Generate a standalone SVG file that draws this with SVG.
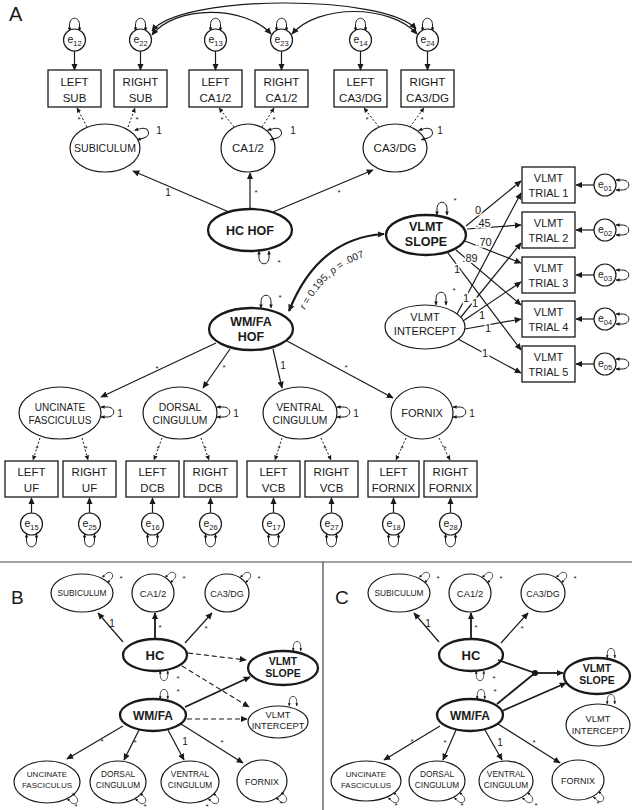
<svg xmlns="http://www.w3.org/2000/svg" width="632" height="810" viewBox="0 0 632 810">
<style>
text{font-family:"Liberation Sans",Arial,Helvetica,sans-serif;fill:#1a1a1a;text-anchor:middle}
.bx{fill:#fff;stroke:#1a1a1a;stroke-width:1.3}
.el{fill:#fff;stroke:#1a1a1a;stroke-width:1.2}
.eb{fill:#fff;stroke:#1a1a1a;stroke-width:2.3}
.ln{fill:none;stroke:#1a1a1a;stroke-width:1.2;marker-end:url(#ah)}
.lnb{fill:none;stroke:#1a1a1a;stroke-width:1.8;marker-end:url(#ah)}
.dt{fill:none;stroke:#1a1a1a;stroke-width:1;stroke-dasharray:2 2;marker-end:url(#as)}
.ds{fill:none;stroke:#1a1a1a;stroke-width:1.1;stroke-dasharray:5 3;marker-end:url(#ah)}
.dbl{fill:none;stroke:#1a1a1a;stroke-width:1.2;marker-start:url(#ah);marker-end:url(#ah)}
.cor{fill:none;stroke:#1a1a1a;stroke-width:2.2;marker-start:url(#ah);marker-end:url(#ah)}
.sep{stroke:#444;stroke-width:1.2}
.e{font-size:10.5px}
.sub{font-size:7.5px}
.bt{font-size:11.5px}
.tt{font-size:11px}
.bo{font-weight:bold}
.ast{font-size:8px}
.lab{font-size:11px;stroke:#fff;stroke-width:3px;paint-order:stroke}
.lab9{font-size:10px}
.big{font-size:20px;text-anchor:start}
</style>
<defs>
<marker id="ah" viewBox="0 0 10 10" refX="9" refY="5" markerWidth="7" markerHeight="7" markerUnits="userSpaceOnUse" orient="auto-start-reverse"><path d="M0,0.5 L10,5 L0,9.5z" fill="#1a1a1a"/></marker>
<marker id="as" viewBox="0 0 10 10" refX="9" refY="5" markerWidth="5" markerHeight="5" markerUnits="userSpaceOnUse" orient="auto-start-reverse"><path d="M0,0.5 L10,5 L0,9.5z" fill="#1a1a1a"/></marker>
<marker id="al" viewBox="0 0 10 10" refX="9" refY="5" markerWidth="4" markerHeight="4" markerUnits="userSpaceOnUse" orient="auto-start-reverse"><path d="M0,0.5 L10,5 L0,9.5z" fill="#1a1a1a"/></marker>
<path id="lp" d="M-5,0 L-5,-6 C-5,-15 5,-15 5,-6 L5,0" fill="none" stroke="#1a1a1a" stroke-width="1" marker-start="url(#al)" marker-end="url(#al)"/>
</defs>

<!-- panel labels and separators -->
<text x="9" y="21" class="big">A</text>
<text x="11" y="604" class="big" style="font-size:19px">B</text>
<text x="335" y="604" class="big" style="font-size:19px">C</text>
<line x1="0" y1="562" x2="632" y2="562" class="sep"/>
<line x1="323" y1="562" x2="323" y2="810" class="sep"/>

<!-- ================= PANEL A ================= -->
<g id="A-e12"><circle cx="74.5" cy="40" r="11" class="el"/><text x="74.5" y="43" class="e">e<tspan class="sub" dy="2.5">12</tspan></text><use href="#lp" transform="translate(74.5,31)"/></g>
<g id="A-e22"><circle cx="140.5" cy="40" r="11" class="el"/><text x="140.5" y="43" class="e">e<tspan class="sub" dy="2.5">22</tspan></text><use href="#lp" transform="translate(140.5,31)"/></g>
<g id="A-e13"><circle cx="215.5" cy="40" r="11" class="el"/><text x="215.5" y="43" class="e">e<tspan class="sub" dy="2.5">13</tspan></text><use href="#lp" transform="translate(215.5,31)"/></g>
<g id="A-e23"><circle cx="281.5" cy="40" r="11" class="el"/><text x="281.5" y="43" class="e">e<tspan class="sub" dy="2.5">23</tspan></text><use href="#lp" transform="translate(281.5,31)"/></g>
<g id="A-e14"><circle cx="360.5" cy="40" r="11" class="el"/><text x="360.5" y="43" class="e">e<tspan class="sub" dy="2.5">14</tspan></text><use href="#lp" transform="translate(360.5,31)"/></g>
<g id="A-e24"><circle cx="427.5" cy="40" r="11" class="el"/><text x="427.5" y="43" class="e">e<tspan class="sub" dy="2.5">24</tspan></text><use href="#lp" transform="translate(427.5,31)"/></g>

<g id="A-leftsub"><rect x="48" y="70" width="53" height="37" class="bx"/><text x="74.5" y="86" class="bt">LEFT</text><text x="74.5" y="102" class="bt">SUB</text></g>
<g id="A-rightsub"><rect x="114" y="70" width="53" height="37" class="bx"/><text x="140.5" y="86" class="bt">RIGHT</text><text x="140.5" y="102" class="bt">SUB</text></g>
<g id="A-leftca12"><rect x="189" y="70" width="53" height="37" class="bx"/><text x="215.5" y="86" class="bt">LEFT</text><text x="215.5" y="102" class="bt">CA1/2</text></g>
<g id="A-rightca12"><rect x="255" y="70" width="53" height="37" class="bx"/><text x="281.5" y="86" class="bt">RIGHT</text><text x="281.5" y="102" class="bt">CA1/2</text></g>
<g id="A-leftca3dg"><rect x="334" y="70" width="53" height="37" class="bx"/><text x="360.5" y="86" class="bt">LEFT</text><text x="360.5" y="102" class="bt">CA3/DG</text></g>
<g id="A-rightca3dg"><rect x="401" y="70" width="53" height="37" class="bx"/><text x="427.5" y="86" class="bt">RIGHT</text><text x="427.5" y="102" class="bt">CA3/DG</text></g>

<g id="A-subiculum"><ellipse cx="105" cy="148" rx="35" ry="24" class="el"/><text x="105" y="152" style="font-size:10.5px">SUBICULUM</text><use href="#lp" transform="translate(136,135) rotate(75)"/><text x="159" y="134" class="lab9">1</text></g>
<g id="A-ca12"><ellipse cx="248" cy="148" rx="27" ry="24" class="el"/><text x="248" y="152" style="font-size:11.5px">CA1/2</text><use href="#lp" transform="translate(269,135) rotate(75)"/><text x="293" y="134" class="lab9">1</text></g>
<g id="A-ca3dg"><ellipse cx="395" cy="148" rx="32" ry="24" class="el"/><text x="395" y="152" style="font-size:11.5px">CA3/DG</text><use href="#lp" transform="translate(420,135) rotate(75)"/><text x="440" y="134" class="lab9">1</text></g>

<g id="A-hchof"><ellipse cx="250" cy="230" rx="42" ry="21" class="eb"/><text x="250" y="235" class="bo" style="font-size:12.5px">HC HOF</text><use href="#lp" transform="translate(264,251) rotate(180)"/><text x="279" y="265" class="ast">*</text></g>

<g id="A-wmfahof"><ellipse cx="251" cy="329" rx="42" ry="21" class="eb"/><text x="251" y="326" class="bo" style="font-size:12.5px">WM/FA</text><text x="251" y="341" class="bo" style="font-size:12.5px">HOF</text><use href="#lp" transform="translate(266,308)"/><text x="280" y="300" class="ast">*</text></g>

<g id="A-vlmtslope"><ellipse cx="426" cy="235" rx="40" ry="20" class="eb"/><text x="426" y="231" class="bo" style="font-size:12.5px">VLMT</text><text x="426" y="246" class="bo" style="font-size:12.5px">SLOPE</text><use href="#lp" transform="translate(442,215)"/><text x="455" y="203" class="ast">*</text></g>

<g id="A-vlmtintercept"><ellipse cx="425" cy="327" rx="40" ry="22" class="el"/><text x="425" y="321" style="font-size:11px">VLMT</text><text x="425" y="335" style="font-size:11px">INTERCEPT</text><use href="#lp" transform="translate(441,305)"/><text x="454" y="293" class="ast">*</text></g>

<g id="A-trial1"><rect x="522" y="167" width="53" height="36" class="bx"/><text x="548.5" y="182" class="tt">VLMT</text><text x="548.5" y="197" class="tt">TRIAL 1</text></g>
<g id="A-trial2"><rect x="522" y="212" width="53" height="36" class="bx"/><text x="548.5" y="227" class="tt">VLMT</text><text x="548.5" y="242" class="tt">TRIAL 2</text></g>
<g id="A-trial3"><rect x="522" y="257" width="53" height="36" class="bx"/><text x="548.5" y="272" class="tt">VLMT</text><text x="548.5" y="287" class="tt">TRIAL 3</text></g>
<g id="A-trial4"><rect x="522" y="301" width="53" height="36" class="bx"/><text x="548.5" y="316" class="tt">VLMT</text><text x="548.5" y="331" class="tt">TRIAL 4</text></g>
<g id="A-trial5"><rect x="522" y="346" width="53" height="36" class="bx"/><text x="548.5" y="361" class="tt">VLMT</text><text x="548.5" y="376" class="tt">TRIAL 5</text></g>

<g id="A-e01"><circle cx="605" cy="185" r="11" class="el"/><text x="605" y="188" class="e">e<tspan class="sub" dy="2.5">01</tspan></text><use href="#lp" transform="translate(616,185) rotate(90)"/></g>
<g id="A-e02"><circle cx="605" cy="230" r="11" class="el"/><text x="605" y="233" class="e">e<tspan class="sub" dy="2.5">02</tspan></text><use href="#lp" transform="translate(616,230) rotate(90)"/></g>
<g id="A-e03"><circle cx="605" cy="275" r="11" class="el"/><text x="605" y="278" class="e">e<tspan class="sub" dy="2.5">03</tspan></text><use href="#lp" transform="translate(616,275) rotate(90)"/></g>
<g id="A-e04"><circle cx="605" cy="319" r="11" class="el"/><text x="605" y="322" class="e">e<tspan class="sub" dy="2.5">04</tspan></text><use href="#lp" transform="translate(616,319) rotate(90)"/></g>
<g id="A-e05"><circle cx="605" cy="364" r="11" class="el"/><text x="605" y="367" class="e">e<tspan class="sub" dy="2.5">05</tspan></text><use href="#lp" transform="translate(616,364) rotate(90)"/></g>

<g id="A-uncinate"><ellipse cx="60" cy="413" rx="41" ry="26" class="el"/><text x="60" y="411" style="font-size:10px">UNCINATE</text><text x="60" y="424" style="font-size:10px">FASCICULUS</text><use href="#lp" transform="translate(101,412) rotate(90)"/><text x="120" y="417" class="lab9">1</text></g>
<g id="A-dorsal"><ellipse cx="180" cy="413" rx="37" ry="26" class="el"/><text x="180" y="411" style="font-size:10.3px">DORSAL</text><text x="180" y="424" style="font-size:10.3px">CINGULUM</text><use href="#lp" transform="translate(217,412) rotate(90)"/><text x="236" y="417" class="lab9">1</text></g>
<g id="A-ventral"><ellipse cx="300" cy="413" rx="37" ry="26" class="el"/><text x="300" y="411" style="font-size:10.3px">VENTRAL</text><text x="300" y="424" style="font-size:10.3px">CINGULUM</text><use href="#lp" transform="translate(337,412) rotate(90)"/><text x="356" y="417" class="lab9">1</text></g>
<g id="A-fornix"><ellipse cx="422" cy="413" rx="31" ry="26" class="el"/><text x="422" y="417" style="font-size:11px">FORNIX</text><use href="#lp" transform="translate(453,412) rotate(90)"/><text x="472" y="417" class="lab9">1</text></g>

<g id="A-leftuf"><rect x="5" y="461" width="53" height="36" class="bx"/><text x="31.5" y="476" class="bt">LEFT</text><text x="31.5" y="492" class="bt">UF</text></g>
<g id="A-rightuf"><rect x="63" y="461" width="53" height="36" class="bx"/><text x="89.5" y="476" class="bt">RIGHT</text><text x="89.5" y="492" class="bt">UF</text></g>
<g id="A-leftdcb"><rect x="126" y="461" width="53" height="36" class="bx"/><text x="152.5" y="476" class="bt">LEFT</text><text x="152.5" y="492" class="bt">DCB</text></g>
<g id="A-rightdcb"><rect x="184" y="461" width="53" height="36" class="bx"/><text x="210.5" y="476" class="bt">RIGHT</text><text x="210.5" y="492" class="bt">DCB</text></g>
<g id="A-leftvcb"><rect x="247" y="461" width="53" height="36" class="bx"/><text x="273.5" y="476" class="bt">LEFT</text><text x="273.5" y="492" class="bt">VCB</text></g>
<g id="A-rightvcb"><rect x="305" y="461" width="53" height="36" class="bx"/><text x="331.5" y="476" class="bt">RIGHT</text><text x="331.5" y="492" class="bt">VCB</text></g>
<g id="A-leftfornix"><rect x="368" y="461" width="51" height="36" class="bx"/><text x="393.5" y="476" class="bt">LEFT</text><text x="393.5" y="492" class="bt">FORNIX</text></g>
<g id="A-rightfornix"><rect x="424" y="461" width="53" height="36" class="bx"/><text x="450.5" y="476" class="bt">RIGHT</text><text x="450.5" y="492" class="bt">FORNIX</text></g>

<g id="A-e15"><circle cx="31.5" cy="524" r="11" class="el"/><text x="31.5" y="527" class="e">e<tspan class="sub" dy="2.5">15</tspan></text><use href="#lp" transform="translate(31.5,534) rotate(180)"/></g>
<g id="A-e25"><circle cx="89.5" cy="524" r="11" class="el"/><text x="89.5" y="527" class="e">e<tspan class="sub" dy="2.5">25</tspan></text><use href="#lp" transform="translate(89.5,534) rotate(180)"/></g>
<g id="A-e16"><circle cx="152.5" cy="524" r="11" class="el"/><text x="152.5" y="527" class="e">e<tspan class="sub" dy="2.5">16</tspan></text><use href="#lp" transform="translate(152.5,534) rotate(180)"/></g>
<g id="A-e26"><circle cx="210.5" cy="524" r="11" class="el"/><text x="210.5" y="527" class="e">e<tspan class="sub" dy="2.5">26</tspan></text><use href="#lp" transform="translate(210.5,534) rotate(180)"/></g>
<g id="A-e17"><circle cx="273.5" cy="524" r="11" class="el"/><text x="273.5" y="527" class="e">e<tspan class="sub" dy="2.5">17</tspan></text><use href="#lp" transform="translate(273.5,534) rotate(180)"/></g>
<g id="A-e27"><circle cx="331.5" cy="524" r="11" class="el"/><text x="331.5" y="527" class="e">e<tspan class="sub" dy="2.5">27</tspan></text><use href="#lp" transform="translate(331.5,534) rotate(180)"/></g>
<g id="A-e18"><circle cx="393.5" cy="524" r="11" class="el"/><text x="393.5" y="527" class="e">e<tspan class="sub" dy="2.5">18</tspan></text><use href="#lp" transform="translate(393.5,534) rotate(180)"/></g>
<g id="A-e28"><circle cx="450.5" cy="524" r="11" class="el"/><text x="450.5" y="527" class="e">e<tspan class="sub" dy="2.5">28</tspan></text><use href="#lp" transform="translate(450.5,534) rotate(180)"/></g>

<g id="A-connectors">
<!-- error covariances -->
<path d="M152,31 C180,-6 385,-6 416,29" class="dbl"/>
<path d="M152,35 C175,5 245,5 271,34" class="dbl"/>
<path d="M292,34 C318,4 390,4 417,34" class="dbl"/>
<!-- error to box -->
<line x1="74.5" y1="51" x2="74.5" y2="70" class="ln"/>
<line x1="140.5" y1="51" x2="140.5" y2="70" class="ln"/>
<line x1="215.5" y1="51" x2="215.5" y2="70" class="ln"/>
<line x1="281.5" y1="51" x2="281.5" y2="70" class="ln"/>
<line x1="360.5" y1="51" x2="360.5" y2="70" class="ln"/>
<line x1="427.5" y1="51" x2="427.5" y2="70" class="ln"/>
<!-- loadings top -->
<line x1="87" y1="127" x2="77" y2="108" class="dt"/><text x="79" y="122" class="ast">*</text>
<line x1="128" y1="127" x2="135" y2="108" class="dt"/><text x="137" y="122" class="ast">*</text>
<line x1="234" y1="127" x2="219" y2="108" class="dt"/><text x="222" y="122" class="ast">*</text>
<line x1="262" y1="127" x2="274" y2="108" class="dt"/><text x="274" y="122" class="ast">*</text>
<line x1="379" y1="127" x2="364" y2="108" class="dt"/><text x="367" y="122" class="ast">*</text>
<line x1="410" y1="127" x2="424" y2="108" class="dt"/><text x="422" y="122" class="ast">*</text>
<!-- HC HOF -->
<line x1="229" y1="212" x2="133" y2="171" class="ln"/><text x="168" y="196" class="lab9">1</text>
<line x1="250" y1="209" x2="250" y2="173" class="ln"/><text x="256" y="195" class="ast">*</text>
<line x1="273" y1="212" x2="373" y2="170" class="ln"/><text x="339" y="195" class="ast">*</text>
<!-- correlation -->
<path d="M289,311 Q318,238 384,234" class="cor"/>
<path id="corlab" d="M305,310 Q331,259 389,251" fill="none" stroke="none"/>
<text style="font-size:10px;text-anchor:start"><textPath href="#corlab" startOffset="0"><tspan font-style="italic">r</tspan> = 0.195, <tspan font-style="italic">p</tspan> = .007</textPath></text>
<!-- slope to trials -->
<line x1="466" y1="226" x2="521" y2="181" class="ln"/>
<line x1="467" y1="229" x2="521" y2="225" class="ln"/>
<line x1="465" y1="241" x2="521" y2="263" class="ln"/>
<line x1="456" y1="250" x2="521" y2="305" class="ln"/>
<line x1="448" y1="253" x2="521" y2="350" class="ln"/>
<!-- intercept to trials -->
<line x1="457" y1="314" x2="521" y2="193" class="ln"/>
<line x1="461" y1="317" x2="521" y2="243" class="ln"/>
<line x1="463" y1="321" x2="521" y2="282" class="ln"/>
<line x1="465" y1="329" x2="521" y2="319" class="ln"/>
<line x1="458" y1="339" x2="521" y2="373" class="ln"/>
<text x="478" y="214" class="lab">0</text>
<text x="483" y="227" class="lab">.45</text>
<text x="484" y="246" class="lab">.70</text>
<text x="470" y="262" class="lab">.89</text>
<text x="457" y="273" class="lab">1</text>
<text x="466" y="302" class="lab">1</text>
<text x="475" y="307" class="lab">1</text>
<text x="482" y="319" class="lab">1</text>
<text x="488" y="332" class="lab">1</text>
<text x="485" y="357" class="lab">1</text>
<!-- errors to trials -->
<line x1="594" y1="185" x2="576" y2="185" class="ln"/>
<line x1="594" y1="230" x2="576" y2="230" class="ln"/>
<line x1="594" y1="275" x2="576" y2="275" class="ln"/>
<line x1="594" y1="319" x2="576" y2="319" class="ln"/>
<line x1="594" y1="364" x2="576" y2="364" class="ln"/>
<!-- WM/FA HOF to tracts -->
<line x1="216" y1="343" x2="101" y2="397" class="ln"/><text x="157" y="371" class="ast">*</text>
<line x1="230" y1="349" x2="203" y2="388" class="ln"/><text x="224" y="370" class="ast">*</text>
<line x1="273" y1="349" x2="282" y2="388" class="ln"/><text x="283" y="369" class="lab9">1</text>
<line x1="287" y1="341" x2="393" y2="398" class="ln"/><text x="346" y="370" class="ast">*</text>
<!-- tracts to boxes -->
<line x1="40" y1="438" x2="33" y2="460" class="dt"/><text x="37" y="451" class="ast">*</text>
<line x1="82" y1="438" x2="88" y2="460" class="dt"/><text x="86" y="451" class="ast">*</text>
<line x1="162" y1="438" x2="154" y2="460" class="dt"/><text x="158" y="451" class="ast">*</text>
<line x1="201" y1="438" x2="209" y2="460" class="dt"/><text x="205" y="451" class="ast">*</text>
<line x1="282" y1="438" x2="275" y2="460" class="dt"/><text x="279" y="451" class="ast">*</text>
<line x1="321" y1="438" x2="331" y2="460" class="dt"/><text x="325" y="451" class="ast">*</text>
<line x1="406" y1="438" x2="396" y2="460" class="dt"/><text x="402" y="451" class="ast">*</text>
<line x1="439" y1="438" x2="450" y2="460" class="dt"/><text x="445" y="451" class="ast">*</text>
<!-- errors to boxes -->
<line x1="31.5" y1="513" x2="31.5" y2="498" class="ln"/>
<line x1="89.5" y1="513" x2="89.5" y2="498" class="ln"/>
<line x1="152.5" y1="513" x2="152.5" y2="498" class="ln"/>
<line x1="210.5" y1="513" x2="210.5" y2="498" class="ln"/>
<line x1="273.5" y1="513" x2="273.5" y2="498" class="ln"/>
<line x1="331.5" y1="513" x2="331.5" y2="498" class="ln"/>
<line x1="393.5" y1="513" x2="393.5" y2="498" class="ln"/>
<line x1="450.5" y1="513" x2="450.5" y2="498" class="ln"/>
</g>

<!-- ================= PANEL B ================= -->
<g id="B-subiculum"><ellipse cx="82" cy="593" rx="31" ry="19" class="el"/><text x="82" y="596" style="font-size:8.3px">SUBICULUM</text><use href="#lp" transform="translate(105,580) rotate(45) scale(.75)"/><text x="121" y="581" class="ast">*</text></g>
<g id="B-ca12"><ellipse cx="153" cy="593" rx="21" ry="19" class="el"/><text x="153" y="596.5" style="font-size:9.5px">CA1/2</text><use href="#lp" transform="translate(168,580) rotate(45) scale(.75)"/><text x="184" y="581" class="ast">*</text></g>
<g id="B-ca3dg"><ellipse cx="227" cy="593" rx="22" ry="19" class="el"/><text x="227" y="596.5" style="font-size:9px">CA3/DG</text><use href="#lp" transform="translate(243,580) rotate(45) scale(.75)"/><text x="259" y="581" class="ast">*</text></g>
<g id="B-hc"><ellipse cx="155" cy="655" rx="32" ry="16" class="eb"/><text x="155" y="660" class="bo" style="font-size:13px">HC</text><use href="#lp" transform="translate(164,671) rotate(180) scale(.75)"/><text x="178" y="681" class="ast">*</text></g>
<g id="B-wmfa"><ellipse cx="153" cy="715" rx="33" ry="16" class="eb"/><text x="153" y="720" class="bo" style="font-size:12px">WM/FA</text><use href="#lp" transform="translate(164,699) rotate(0) scale(.75)"/><text x="178" y="694" class="ast">*</text></g>
<g id="B-vlmtslope"><ellipse cx="283" cy="668" rx="35" ry="17" class="eb"/><text x="283" y="665" class="bo" style="font-size:10.5px">VLMT</text><text x="283" y="677" class="bo" style="font-size:10.5px">SLOPE</text><use href="#lp" transform="translate(297,651) scale(.75)"/></g>
<g id="B-vlmtintercept"><ellipse cx="278" cy="722" rx="30" ry="16" class="el"/><text x="278" y="718" style="font-size:9.3px">VLMT</text><text x="278" y="729" style="font-size:9.3px">INTERCEPT</text><use href="#lp" transform="translate(293,706) scale(.75)"/></g>
<g id="B-uncinate"><ellipse cx="47" cy="782" rx="33" ry="21" class="el"/><text x="47" y="777" style="font-size:8px">UNCINATE</text><text x="47" y="788" style="font-size:8px">FASCICULUS</text><use href="#lp" transform="translate(70,796) rotate(135) scale(.75)"/><text x="76" y="809" class="ast">*</text></g>
<g id="B-dorsal"><ellipse cx="118" cy="782" rx="28" ry="21" class="el"/><text x="118" y="777" style="font-size:8.3px">DORSAL</text><text x="118" y="788" style="font-size:8.3px">CINGULUM</text><use href="#lp" transform="translate(138,796) rotate(135) scale(.75)"/><text x="145" y="809" class="ast">*</text></g>
<g id="B-ventral"><ellipse cx="190" cy="782" rx="29" ry="21" class="el"/><text x="190" y="777" style="font-size:8.3px">VENTRAL</text><text x="190" y="788" style="font-size:8.3px">CINGULUM</text><use href="#lp" transform="translate(211,796) rotate(135) scale(.75)"/><text x="207" y="809" class="ast">*</text></g>
<g id="B-fornix"><ellipse cx="262" cy="781" rx="25" ry="21" class="el"/><text x="262" y="785" style="font-size:9px">FORNIX</text><use href="#lp" transform="translate(279,795) rotate(135) scale(.75)"/><text x="281" y="806" class="ast">*</text></g>

<g id="B-connectors">
<line x1="123" y1="642" x2="98" y2="613" class="ln"/><text x="112" y="627" class="lab9">1</text>
<line x1="155" y1="639" x2="155" y2="613" class="lnb"/><text x="160" y="630" class="ast">*</text>
<line x1="185" y1="643" x2="212" y2="613" class="ln"/><text x="206" y="631" class="ast">*</text>
<line x1="188" y1="653" x2="246" y2="660" class="ds"/>
<line x1="182" y1="666" x2="249" y2="707" class="ds"/>
<line x1="187" y1="719" x2="247" y2="719" class="ds"/>
<line x1="185" y1="707" x2="250" y2="677" class="lnb"/>
<line x1="123" y1="726" x2="67" y2="759" class="ln"/><text x="102" y="744" class="ast">*</text>
<line x1="139" y1="730" x2="124" y2="760" class="ln"/><text x="135" y="745" class="ast">*</text>
<line x1="168" y1="730" x2="184" y2="760" class="ln"/><text x="185" y="745" class="lab9">1</text>
<line x1="181" y1="724" x2="243" y2="763" class="ln"/><text x="222" y="745" class="ast">*</text>
</g>

<!-- ================= PANEL C ================= -->
<g id="C-subiculum"><ellipse cx="399" cy="593" rx="31" ry="19" class="el"/><text x="399" y="596" style="font-size:8.3px">SUBICULUM</text><use href="#lp" transform="translate(422,580) rotate(45) scale(.75)"/><text x="438" y="581" class="ast">*</text></g>
<g id="C-ca12"><ellipse cx="470" cy="593" rx="21" ry="19" class="el"/><text x="470" y="596.5" style="font-size:9.5px">CA1/2</text><use href="#lp" transform="translate(485,580) rotate(45) scale(.75)"/><text x="501" y="581" class="ast">*</text></g>
<g id="C-ca3dg"><ellipse cx="543" cy="593" rx="22" ry="19" class="el"/><text x="543" y="596.5" style="font-size:9px">CA3/DG</text><use href="#lp" transform="translate(559,580) rotate(45) scale(.75)"/><text x="575" y="581" class="ast">*</text></g>
<g id="C-hc"><ellipse cx="471" cy="655" rx="32" ry="16" class="eb"/><text x="471" y="660" class="bo" style="font-size:13px">HC</text><use href="#lp" transform="translate(480,671) rotate(180) scale(.75)"/><text x="494" y="681" class="ast">*</text></g>
<g id="C-wmfa"><ellipse cx="470" cy="715" rx="33" ry="16" class="eb"/><text x="470" y="720" class="bo" style="font-size:12px">WM/FA</text><use href="#lp" transform="translate(481,699) scale(.75)"/><text x="495" y="694" class="ast">*</text></g>
<g id="C-vlmtslope"><ellipse cx="597" cy="676" rx="33" ry="18" class="eb"/><text x="597" y="672" class="bo" style="font-size:10.5px">VLMT</text><text x="597" y="684" class="bo" style="font-size:10.5px">SLOPE</text><use href="#lp" transform="translate(611,658) scale(.75)"/></g>
<g id="C-vlmtintercept"><ellipse cx="598" cy="725" rx="32" ry="21" class="el"/><text x="598" y="722" style="font-size:9.3px">VLMT</text><text x="598" y="734" style="font-size:9.3px">INTERCEPT</text><use href="#lp" transform="translate(611,704) scale(.75)"/></g>
<g id="C-uncinate"><ellipse cx="366" cy="781" rx="35" ry="20" class="el"/><text x="366" y="777" style="font-size:8px">UNCINATE</text><text x="366" y="788" style="font-size:8px">FASCICULUS</text><use href="#lp" transform="translate(391,795) rotate(135) scale(.75)"/><text x="396" y="808" class="ast">*</text></g>
<g id="C-dorsal"><ellipse cx="437" cy="781" rx="28" ry="20" class="el"/><text x="437" y="777" style="font-size:8.3px">DORSAL</text><text x="437" y="788" style="font-size:8.3px">CINGULUM</text><use href="#lp" transform="translate(457,795) rotate(135) scale(.75)"/><text x="462" y="808" class="ast">*</text></g>
<g id="C-ventral"><ellipse cx="506" cy="781" rx="27" ry="20" class="el"/><text x="506" y="777" style="font-size:8.3px">VENTRAL</text><text x="506" y="788" style="font-size:8.3px">CINGULUM</text><use href="#lp" transform="translate(525,795) rotate(135) scale(.75)"/><text x="536" y="808" class="ast">*</text></g>
<g id="C-fornix"><ellipse cx="578" cy="780" rx="26" ry="20" class="el"/><text x="578" y="784" style="font-size:9px">FORNIX</text><use href="#lp" transform="translate(596,794) rotate(135) scale(.75)"/><text x="598" y="806" class="ast">*</text></g>

<g id="C-connectors">
<line x1="439" y1="642" x2="414" y2="613" class="ln"/><text x="428" y="627" class="lab9">1</text>
<line x1="471" y1="639" x2="471" y2="613" class="lnb"/><text x="476" y="630" class="ast">*</text>
<line x1="501" y1="643" x2="528" y2="613" class="ln"/><text x="522" y="631" class="ast">*</text>
<line x1="498" y1="660" x2="535" y2="673" stroke="#1a1a1a" stroke-width="1.8"/>
<line x1="497" y1="704" x2="535" y2="673" stroke="#1a1a1a" stroke-width="1.8"/>
<circle cx="535" cy="673" r="3" fill="#1a1a1a"/>
<line x1="535" y1="673" x2="563" y2="673" class="lnb"/>
<line x1="502" y1="711" x2="566" y2="683" class="lnb"/>
<line x1="440" y1="726" x2="384" y2="760" class="ln"/><text x="412" y="744" class="ast">*</text>
<line x1="456" y1="730" x2="443" y2="760" class="ln"/><text x="445" y="745" class="ast">*</text>
<line x1="485" y1="730" x2="502" y2="760" class="ln"/><text x="500" y="746" class="lab9">1</text>
<line x1="498" y1="724" x2="560" y2="763" class="ln"/><text x="534" y="745" class="ast">*</text>
</g>
</svg>
